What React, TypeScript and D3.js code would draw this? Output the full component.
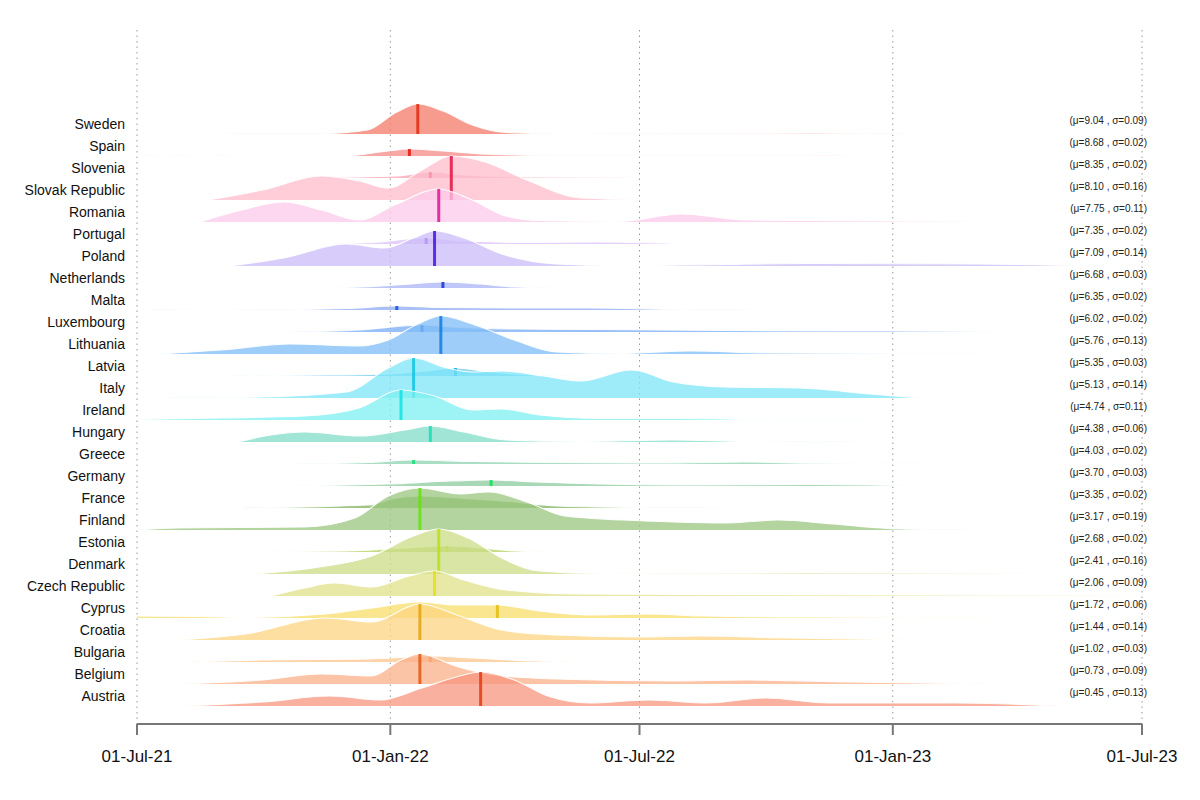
import React from 'react';
import * as d3 from 'd3';

// rows from top to bottom
const countries = [
  'Sweden', 'Spain', 'Slovenia', 'Slovak Republic', 'Romania', 'Portugal', 'Poland',
  'Netherlands', 'Malta', 'Luxembourg', 'Lithuania', 'Latvia', 'Italy', 'Ireland',
  'Hungary', 'Greece', 'Germany', 'France', 'Finland', 'Estonia', 'Denmark',
  'Czech Republic', 'Cyprus', 'Croatia', 'Bulgaria', 'Belgium', 'Austria',
];

const stats = [
  '(μ=9.04 , σ=0.09)', '(μ=8.68 , σ=0.02)', '(μ=8.35 , σ=0.02)', '(μ=8.10 , σ=0.16)',
  '(μ=7.75 , σ=0.11)', '(μ=7.35 , σ=0.02)', '(μ=7.09 , σ=0.14)', '(μ=6.68 , σ=0.03)',
  '(μ=6.35 , σ=0.02)', '(μ=6.02 , σ=0.02)', '(μ=5.76 , σ=0.13)', '(μ=5.35 , σ=0.03)',
  '(μ=5.13 , σ=0.14)', '(μ=4.74 , σ=0.11)', '(μ=4.38 , σ=0.06)', '(μ=4.03 , σ=0.02)',
  '(μ=3.70 , σ=0.03)', '(μ=3.35 , σ=0.02)', '(μ=3.17 , σ=0.19)', '(μ=2.68 , σ=0.02)',
  '(μ=2.41 , σ=0.16)', '(μ=2.06 , σ=0.09)', '(μ=1.72 , σ=0.06)', '(μ=1.44 , σ=0.14)',
  '(μ=1.02 , σ=0.03)', '(μ=0.73 , σ=0.09)', '(μ=0.45 , σ=0.13)',
];

const colors = [
  '#f47a68', '#f48a86', '#f9a3b2', '#fdbccb', '#fcc9ea', '#dcc0fa', '#cbbcf8',
  '#a9b4f7', '#8daaf2', '#78acf4', '#7fbcf7', '#6ccbf2', '#7ee6f8', '#7ef0f0',
  '#80dcc7', '#8dd3b0', '#8ccb9f', '#7fb35e', '#9ac67e', '#b5cf5c', '#cbdc86',
  '#e0e08a', '#f7de6a', '#fcd681', '#fcc48c', '#fbb08a', '#f8957d',
];

// month offset from 01-Jul-21 of the vertical marker
const markMonths = [
  6.7, 6.5, 7.0, 7.5, 7.2, 6.9, 7.1, 7.3, 6.2, 6.8, 7.25, 7.6, 6.6, 6.3,
  7.0, 6.6, 8.45, 6.75, 6.75, 7.4, 7.2, 7.1, 8.6, 6.75, 7.0, 6.75, 8.2,
];

// density outline per country: [month offset, density]
const densities: [number, number][][] = [
  [[0.3, 0], [2, 0.3], [4.5, 0.6], [5.5, 4], [6.2, 22], [6.7, 30], [7.3, 23], [8, 9], [8.8, 1.5], [10, 0.3], [16, 0.8], [18.5, 0]],
  [[0, 0], [1, 0.6], [2.5, 0], [5, 0.3], [6, 5], [6.5, 7], [7.3, 5], [8.5, 1.5], [10, 0.6], [16, 0.4], [17, 0]],
  [[3, 0], [5, 0.8], [6.2, 2], [7, 6], [7.8, 3], [9, 1], [12, 0.5], [24, 0.3]],
  [[1.7, 0], [3, 10], [4.4, 24], [5.3, 19], [6, 12], [6.8, 30], [7.5, 44], [8.3, 38], [9.3, 20], [10.6, 2], [12, 0.4], [24, 0.5]],
  [[1.5, 0], [2.5, 12], [3.5, 20], [4.4, 12], [5.3, 2], [6.2, 18], [7.2, 33], [8, 22], [8.8, 6], [9.6, 1.5], [11.5, 0.5], [13, 8], [14.5, 2], [20, 0.5], [22, 0]],
  [[4.5, 0], [5.6, 1.5], [6.9, 6], [7.8, 3], [9.5, 1.5], [11, 2], [13, 0.3]],
  [[2.2, 0], [3.5, 8], [5, 22], [5.9, 18], [6.6, 28], [7.1, 35], [7.8, 28], [8.7, 12], [10, 2], [11.5, 0.3], [13, 1], [16, 2.5], [20, 2], [23, 0]],
  [[3, 0], [5, 0.6], [6.2, 3], [7.3, 6], [8.2, 4], [9, 1], [10, 0]],
  [[0.2, 0], [1, 0.5], [3, 0.2], [5, 1.5], [6.2, 4], [7.2, 2.5], [9, 2], [10.8, 2], [13, 0.5], [15, 0]],
  [[3.5, 0], [5.3, 2], [6.8, 7], [7.5, 5], [9, 3], [11, 2.5], [14, 1.5], [18, 1], [21, 0.3], [24, 0.1]],
  [[0.5, 0], [2, 4], [3.65, 10], [5.3, 8], [6, 14], [6.7, 30], [7.25, 38], [8, 30], [9, 14], [10, 2], [11.5, 0.5], [13.2, 3], [15, 1], [19, 0.5], [24, 0]],
  [[2.2, 0], [4.5, 1], [6, 2], [6.9, 5], [7.6, 8], [8.4, 4], [9.5, 1], [10.5, 0]],
  [[0.5, 0], [3, 1], [5, 6], [6, 30], [6.6, 40], [7.4, 30], [8, 26], [8.7, 27], [9.7, 22], [10.6, 17], [11.8, 28], [12.8, 16], [14, 11], [15.8, 10], [17.5, 4], [18.7, 0]],
  [[0, 0.5], [2, 2], [4, 4], [5.3, 12], [6.3, 30], [7.1, 24], [8, 10], [8.7, 11], [9.6, 5], [11, 1.5], [13, 1.5], [15, 0.5], [18, 0]],
  [[2.4, 0], [3.2, 7], [4, 10], [5.3, 6], [6.4, 12], [7, 16], [7.8, 10], [8.8, 2], [10.5, 0.5], [12.8, 2], [14.5, 0.5], [18, 0]],
  [[3.6, 0], [5.5, 1.5], [6.6, 4], [8, 2.5], [10, 1.5], [12.5, 1], [14.5, 2], [16, 0.8], [19, 0]],
  [[3.6, 0], [6, 2], [7.5, 5], [8.45, 6], [9.5, 4], [11, 2], [13, 1], [16, 1.5], [19, 0.3], [21.5, 0]],
  [[2.5, 0], [5.5, 3], [6.2, 10], [6.75, 12], [8, 9], [9, 6], [10, 2], [12, 0.5], [14, 0]],
  [[0, 0], [1, 2], [4, 3], [5.2, 12], [6, 34], [6.75, 42], [7.7, 36], [8.4, 38], [9.3, 28], [10.2, 14], [11.6, 10], [12.8, 8], [14, 7], [15.3, 10], [16.6, 6], [18.2, 1], [20, 0]],
  [[2.2, 0], [5, 1], [6.4, 4], [7.4, 6], [8.2, 4], [9, 1], [9.8, 0]],
  [[2.8, 0], [4.2, 6], [5.6, 18], [6.6, 38], [7.2, 45], [7.9, 36], [8.7, 16], [9.6, 3], [11, 0.5], [16, 1], [24, 0.3]],
  [[3.2, 0], [4, 8], [4.7, 13], [5.6, 9], [6.5, 20], [7.1, 25], [7.8, 16], [8.8, 6], [10.5, 2], [13, 1.5], [24, 0.5]],
  [[0, 2], [1.5, 1.5], [2.5, 0.5], [4.5, 4], [5.6, 10], [6.75, 16], [7.6, 13], [8.6, 13], [9.6, 7], [10.8, 3], [12.2, 4], [13.5, 2], [16, 1], [22, 0]],
  [[1, 0], [2.6, 6], [4.5, 22], [5.6, 18], [6.75, 36], [7.7, 24], [8.7, 10], [10, 5], [12, 3], [13.5, 4], [15.5, 2], [18.5, 0]],
  [[1.2, 0], [3, 2], [5.5, 3], [6.5, 5], [7, 6], [8, 4], [9.5, 1], [11, 0]],
  [[1, 0], [3, 4], [4.4, 10], [5.6, 8], [6.3, 24], [6.75, 30], [7.6, 18], [8.5, 9], [10, 5], [12.8, 3], [14.5, 4], [17, 2], [20.5, 0]],
  [[1.1, 0], [3, 4], [4.6, 10], [5.8, 6], [6.8, 18], [7.7, 30], [8.2, 34], [9, 26], [9.8, 10], [10.8, 3], [12.2, 6], [13.6, 3], [15, 8], [16.5, 3], [19.5, 3], [22, 0]],
];

const tickDates = ['2021-07-01', '2022-01-01', '2022-07-01', '2023-01-01', '2023-07-01'];

const start = new Date(2021, 6, 1);
const toDate = (m: number) => new Date(start.getTime() + m * 30.44 * 86400000);
const parse = d3.timeParse('%Y-%m-%d');
const fmt = d3.timeFormat('%d-%b-%y');

function heightAt(pts: [number, number][], m: number) {
  for (let i = 0; i < pts.length - 1; i++) {
    const [a, ha] = pts[i];
    const [b, hb] = pts[i + 1];
    if (m >= a && m <= b) return ha + ((hb - ha) * (m - a)) / (b - a);
  }
  return 0;
}

function markColor(c: string) {
  const hc = d3.hsl(c);
  hc.s = 0.85;
  hc.l = 0.48;
  return hc.toString();
}

export default function App() {
  const w = 1200;
  const h = 800;
  const x = d3
    .scaleTime()
    .domain([parse(tickDates[0])!, parse(tickDates[4])!])
    .range([137, 1142]);
  const yBase = d3.scaleLinear().domain([0, countries.length - 1]).range([134, 706]);
  const yDens = d3.scaleLinear().domain([0, 10]).range([0, 10]);

  const area = (i: number) =>
    d3
      .area<[number, number]>()
      .x((d) => x(toDate(d[0])))
      .y0(yBase(i))
      .y1((d) => yBase(i) - yDens(d[1]))
      .curve(d3.curveMonotoneX);
  const line = (i: number) =>
    d3
      .line<[number, number]>()
      .x((d) => x(toDate(d[0])))
      .y((d) => yBase(i) - yDens(d[1]))
      .curve(d3.curveMonotoneX);

  return (
    <svg width={w} height={h} style={{ display: 'block', margin: '-8px', fontFamily: 'Liberation Sans, Arial, sans-serif' }}>
      {tickDates.map((t) => (
        <line key={t} x1={x(parse(t)!)} x2={x(parse(t)!)} y1={30} y2={724} stroke="#999" strokeDasharray="1.5,4" />
      ))}
      {countries.map((c, i) => {
        const pts = densities[i];
        const mx = x(toDate(markMonths[i]));
        const mh = yDens(heightAt(pts, markMonths[i]));
        return (
          <g key={c}>
            <path d={area(i)(pts)!} fill={colors[i]} fillOpacity={0.75} />
            <path d={line(i)(pts)!} fill="none" stroke="#fff" strokeWidth={1.2} strokeOpacity={0.9} />
            <line x1={mx} x2={mx} y1={yBase(i)} y2={yBase(i) - mh} stroke={markColor(colors[i])} strokeOpacity={0.85} strokeWidth={3} />
          </g>
        );
      })}
      {countries.map((c, i) => (
        <text key={c} x={125} y={yBase(i) - 5} textAnchor="end" fontSize={14} fill="#111">{c}</text>
      ))}
      {stats.map((s, i) => (
        <text key={i} x={1147} y={yBase(i) - 10} textAnchor="end" fontSize={10} fill="#222">{s}</text>
      ))}
      <line x1={137} x2={1142} y1={724} y2={724} stroke="#777" strokeWidth={2} />
      {tickDates.map((t) => (
        <g key={t} transform={`translate(${x(parse(t)!)},724)`}>
          <line y2={11} stroke="#777" strokeWidth={2} />
          <text y={38} textAnchor="middle" fontSize={17} fill="#111">{fmt(parse(t)!)}</text>
        </g>
      ))}
    </svg>
  );
}
